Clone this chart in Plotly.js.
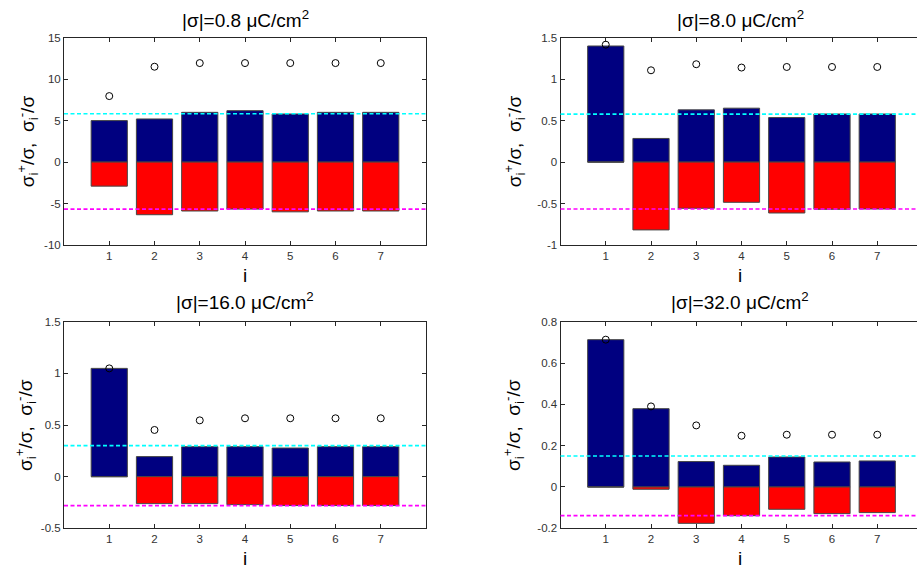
<!DOCTYPE html>
<html>
<head>
<meta charset="utf-8">
<script src="https://cdn.plot.ly/plotly-3.0.1.min.js"></script>
<style>html,body{margin:0;padding:0;background:#fff;}#chart{width:917px;height:572px;}</style>
</head>
<body>
<div id="chart"></div>
<script>
// ---- data ----
const idx = [1, 2, 3, 4, 5, 6, 7];
const titles = ["|σ|=0.8 μC/cm<sup>2</sup>", "|σ|=8.0 μC/cm<sup>2</sup>", "|σ|=16.0 μC/cm<sup>2</sup>", "|σ|=32.0 μC/cm<sup>2</sup>"];

const pos08 = [5.0, 5.2, 6.0, 6.2, 5.8, 6.0, 6.0];
const neg08 = [-2.9, -6.35, -5.9, -5.67, -6.0, -5.9, -5.9];
const tot08 = [7.96, 11.5, 11.94, 11.94, 11.94, 11.94, 11.94];
const ref08 = [5.83, -5.67];

const pos80 = [1.40, 0.285, 0.63, 0.65, 0.537, 0.58, 0.58];
const neg80 = [0, -0.818, -0.557, -0.485, -0.614, -0.57, -0.566];
const tot80 = [1.416, 1.107, 1.18, 1.14, 1.147, 1.147, 1.147];
const ref80 = [0.578, -0.566];

const pos160 = [1.048, 0.194, 0.29, 0.29, 0.277, 0.29, 0.29];
const neg160 = [0, -0.261, -0.261, -0.271, -0.28, -0.28, -0.28];
const tot160 = [1.048, 0.452, 0.545, 0.565, 0.565, 0.565, 0.565];
const ref160 = [0.30, -0.28];

const pos320 = [0.713, 0.379, 0.123, 0.105, 0.145, 0.121, 0.126];
const neg320 = [0, -0.011, -0.176, -0.139, -0.108, -0.129, -0.124];
const tot320 = [0.713, 0.39, 0.298, 0.248, 0.253, 0.253, 0.253];
const ref320 = [0.15, -0.139];

const yt1 = [-10, -5, 0, 5, 10, 15];
const yt1txt = ["-10", "-5", "0", "5", "10", "15"];
const yt2 = [-1, -0.5, 0, 0.5, 1, 1.5];
const yt2txt = ["-1", "-0.5", "0", "0.5", "1", "1.5"];
const yt3 = [-0.5, 0, 0.5, 1, 1.5];
const yt3txt = ["-0.5", "0", "0.5", "1", "1.5"];
const yt4 = [-0.2, 0, 0.2, 0.4, 0.6, 0.8];
const yt4txt = ["-0.2", "0", "0.2", "0.4", "0.6", "0.8"];

const yLabel = "σ<sub>i</sub><sup>+</sup>/σ,  σ<sub>i</sub><sup>-</sup>/σ";
const xLabel = "i";

// ---- build ----
const panels = [
  {pos: pos08, neg: neg08, tot: tot08, ref: ref08, xa: 'x', ya: 'y', yt: yt1, ytt: yt1txt, yr: [-10, 15]},
  {pos: pos80, neg: neg80, tot: tot80, ref: ref80, xa: 'x2', ya: 'y2', yt: yt2, ytt: yt2txt, yr: [-1, 1.5]},
  {pos: pos160, neg: neg160, tot: tot160, ref: ref160, xa: 'x3', ya: 'y3', yt: yt3, ytt: yt3txt, yr: [-0.5, 1.5]},
  {pos: pos320, neg: neg320, tot: tot320, ref: ref320, xa: 'x4', ya: 'y4', yt: yt4, ytt: yt4txt, yr: [-0.2, 0.8]}
];

const edge = {color: 'rgb(70,70,70)', width: 1};
const traces = [];
const shapes = [];
panels.forEach(p => {
  traces.push({type: 'bar', x: idx, y: p.pos, width: 0.8, xaxis: p.xa, yaxis: p.ya,
    marker: {color: '#000080', line: edge}, hoverinfo: 'skip'});
  traces.push({type: 'bar', x: idx, y: p.neg, width: 0.8, xaxis: p.xa, yaxis: p.ya,
    marker: {color: '#ff0000', line: edge}, hoverinfo: 'skip'});
  traces.push({type: 'scatter', mode: 'markers', x: idx, y: p.tot, xaxis: p.xa, yaxis: p.ya,
    marker: {symbol: 'circle-open', size: 7, color: '#000', line: {width: 1, color: '#000'}}, hoverinfo: 'skip'});
  const cols = ['#00ffff', '#ff00ff'];
  p.ref.forEach((v, k) => {
    shapes.push({type: 'line', xref: p.xa + ' domain', yref: p.ya, x0: 0, x1: 1, y0: v, y1: v,
      line: {color: cols[k], width: 1.7, dash: '4px,2.5px'}, layer: 'above'});
  });
});

const W = 917, H = 572;
const xd1 = [64 / W, 426 / W];
const xd2 = [560.5 / W, 1];
const ydTop = [1 - 245 / H, 1 - 37.7 / H];
const ydBot = [1 - 528.3 / H, 1 - 321.7 / H];
const font = 'Liberation Sans, Arial, sans-serif';
const tickfont = {family: font, size: 11.5, color: '#333333'};

function xax(dom, anchor, rmax, mirror) {
  return {domain: dom, anchor: anchor, range: [0, rmax], tickvals: idx, ticktext: idx.map(String),
    ticks: 'inside', ticklen: 4, tickcolor: '#262626', showline: true, linecolor: '#262626', linewidth: 1,
    mirror: mirror, showgrid: false, zeroline: false, tickfont: tickfont, fixedrange: true};
}
function yax(dom, anchor, p, mirror) {
  return {domain: dom, anchor: anchor, range: p.yr, tickvals: p.yt, ticktext: p.ytt,
    ticks: 'inside', ticklen: 4, tickcolor: '#262626', showline: true, linecolor: '#262626', linewidth: 1,
    mirror: mirror, showgrid: false, zeroline: false, tickfont: tickfont, fixedrange: true};
}

const rmax2 = (W - 560.5) / 45.25;

const layout = {
  width: W, height: H, margin: {l: 0, r: 0, t: 0, b: 0},
  paper_bgcolor: '#fff', plot_bgcolor: '#fff', showlegend: false, barmode: 'overlay',
  xaxis: xax(xd1, 'y', 8, 'ticks'),
  yaxis: yax(ydTop, 'x', panels[0], 'ticks'),
  xaxis2: xax(xd2, 'y2', rmax2, 'ticks'),
  yaxis2: yax(ydTop, 'x2', panels[1], false),
  xaxis3: xax(xd1, 'y3', 8, 'ticks'),
  yaxis3: yax(ydBot, 'x3', panels[2], 'ticks'),
  xaxis4: xax(xd2, 'y4', rmax2, 'ticks'),
  yaxis4: yax(ydBot, 'x4', panels[3], false),
  shapes: shapes,
  annotations: []
};

const titleY = [1 - 19 / H, 1 - 19 / H, 1 - 301 / H, 1 - 301 / H];
const xCenters = [245 / W, 740 / W, 245 / W, 740 / W];
const ylabX = [27 / W, 514 / W, 26 / W, 514 / W];
const plotMidY = [(ydTop[0] + ydTop[1]) / 2, (ydTop[0] + ydTop[1]) / 2, (ydBot[0] + ydBot[1]) / 2, (ydBot[0] + ydBot[1]) / 2];
const xlabY = [1 - 275 / H, 1 - 275 / H, 1 - 558 / H, 1 - 558 / H];
const xlabX = [245 / W, 740 / W, 245 / W, 740 / W];
for (let k = 0; k < 4; k++) {
  layout.annotations.push({text: titles[k], xref: 'paper', yref: 'paper', x: xCenters[k], y: titleY[k],
    xanchor: 'center', yanchor: 'middle', showarrow: false, font: {family: font, size: 19, color: '#000'}});
  layout.annotations.push({text: yLabel, xref: 'paper', yref: 'paper', x: ylabX[k], y: plotMidY[k],
    xanchor: 'center', yanchor: 'middle', textangle: -90, showarrow: false, font: {family: font, size: 19, color: '#000'}});
  layout.annotations.push({text: xLabel, xref: 'paper', yref: 'paper', x: xlabX[k], y: xlabY[k],
    xanchor: 'center', yanchor: 'middle', showarrow: false, font: {family: font, size: 19, color: '#000'}});
}

Plotly.newPlot('chart', traces, layout, {displayModeBar: false, staticPlot: true});
</script>
</body>
</html>
